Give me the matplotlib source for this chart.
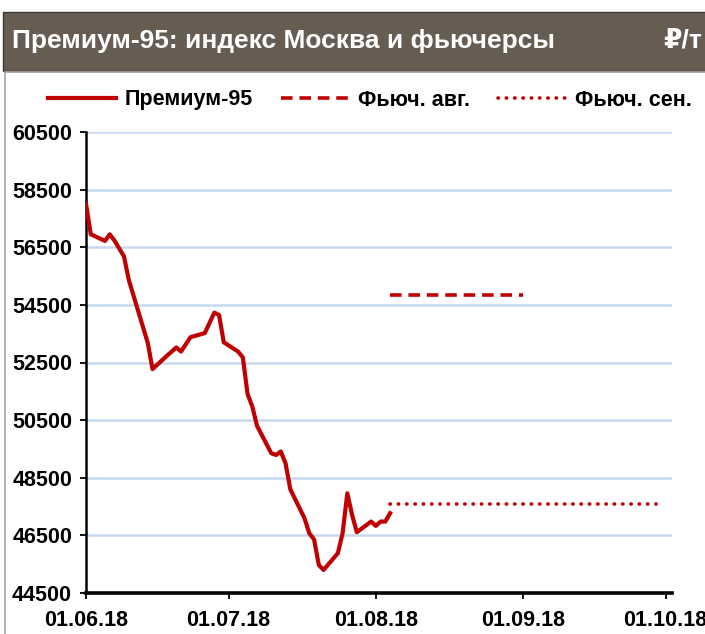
import pandas as pd
import matplotlib.pyplot as plt
import matplotlib.dates as mdates
from matplotlib.patches import Rectangle

plt.rcParams['font.family'] = ['Liberation Sans', 'DejaVu Sans']
plt.rcParams['font.weight'] = 'bold'

# index Moscow, Premium-95, rub/t
dates = ['2018-06-01', '2018-06-02', '2018-06-05', '2018-06-06', '2018-06-07',
         '2018-06-09', '2018-06-10', '2018-06-14', '2018-06-15', '2018-06-18',
         '2018-06-20', '2018-06-21', '2018-06-23', '2018-06-26', '2018-06-28',
         '2018-06-29', '2018-06-30', '2018-07-03', '2018-07-04', '2018-07-05',
         '2018-07-06', '2018-07-07', '2018-07-10', '2018-07-11', '2018-07-12',
         '2018-07-13', '2018-07-14', '2018-07-17', '2018-07-18', '2018-07-19',
         '2018-07-20', '2018-07-21', '2018-07-24', '2018-07-25', '2018-07-26',
         '2018-07-27', '2018-07-28', '2018-07-31', '2018-08-01', '2018-08-02',
         '2018-08-03', '2018-08-04']
premium = [58010, 56950, 56720, 56950, 56730,
           56180, 55370, 53180, 52270, 52730,
           53020, 52880, 53380, 53520, 54230,
           54150, 53200, 52880, 52680, 51410,
           50970, 50300, 49350, 49290, 49410,
           49000, 48100, 47090, 46570, 46360,
           45470, 45300, 45880, 46570, 47960,
           47210, 46610, 46980, 46830, 46980,
           46980, 47270]

# futures
fut_aug_dates = ['2018-08-04', '2018-09-01']
fut_aug = [54850, 54850]
fut_sep_dates = ['2018-08-04', '2018-09-30']
fut_sep = [47590, 47590]

x_ticks = ['2018-06-01', '2018-07-01', '2018-08-01', '2018-09-01', '2018-10-01']
y_ticks = [44500, 46500, 48500, 50500, 52500, 54500, 56500, 58500, 60500]

red = '#c00000'

fig = plt.figure(figsize=(7.05, 6.34), dpi=100)

# title bar and panel frame
fig.patches.append(Rectangle((3 / 705, 1 - 71 / 634), 1, 59 / 634, transform=fig.transFigure,
                             facecolor='#675c52', edgecolor='#3f3832', lw=1, zorder=-1))
fig.patches.append(Rectangle((5 / 705, -0.01), 1, 1 - 72 / 634 + 0.01, transform=fig.transFigure,
                             facecolor='none', edgecolor='#a6a6a6', lw=1.2, zorder=-1))
fig.text(12 / 705, 1 - 41 / 634, 'Премиум-95: индекс Москва и фьючерсы', color='white',
         fontsize=19, fontweight='bold', va='center', ha='left')
fig.text(702 / 705, 1 - 41 / 634, '₽/т', color='white',
         fontsize=19, fontweight='bold', va='center', ha='right')

ax = fig.add_axes([86 / 705, 41 / 634, (672 - 86) / 705, (593 - 132) / 634])

ax.plot(pd.to_datetime(dates), premium, color=red, lw=3.0, label='Премиум-95',
        solid_joinstyle='round', zorder=3)
ax.plot(pd.to_datetime(fut_aug_dates), fut_aug, color=red, lw=2.6, ls=(0, (3.2, 1.9)),
        label='Фьюч. авг.', zorder=3)
ax.plot(pd.to_datetime(fut_sep_dates), fut_sep, color=red, lw=2.6, ls=(0, (0.1, 2.2)),
        dash_capstyle='round', label='Фьюч. сен.', zorder=3)

ax.set_ylim(44500, 60500)
ax.set_yticks(y_ticks)
ax.set_xlim(pd.Timestamp('2018-06-01'), pd.Timestamp('2018-10-02 08:00'))
ax.set_xticks(pd.to_datetime(x_ticks))
ax.xaxis.set_major_formatter(mdates.DateFormatter('%d.%m.%y'))

ax.grid(axis='y', color='#c6d9f1', lw=1.8)
ax.set_axisbelow(True)
for s in ['top', 'right']:
    ax.spines[s].set_visible(False)
ax.spines['left'].set_linewidth(1.8)
ax.spines['bottom'].set_linewidth(2.6)
ax.tick_params(axis='both', labelsize=15.5, width=1.3, length=4, direction='out')
ax.tick_params(axis='y', pad=6)
ax.tick_params(axis='x', pad=8)

fig.legend(loc='center', bbox_to_anchor=(370 / 705, 1 - 100 / 634), ncol=3, frameon=False,
           fontsize=15.5, handlelength=3.15, columnspacing=1.3, handletextpad=0.42)

fig.savefig('out.png', dpi=100)
